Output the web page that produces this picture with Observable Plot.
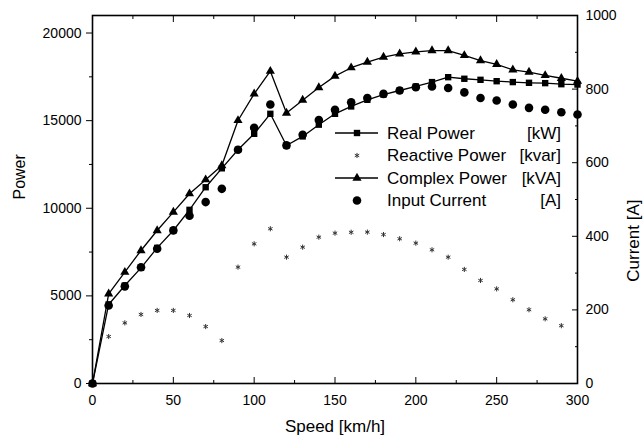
<!DOCTYPE html>
<html><head><meta charset="utf-8">
<script src="https://cdn.jsdelivr.net/npm/d3@7"></script>
<script src="https://cdn.jsdelivr.net/npm/@observablehq/plot@0.6"></script>
<style>
body{margin:0;background:#fff}
#chart{position:relative;width:643px;height:442px}
</style>
</head><body><div id="chart"></div>
<script>
// ---- data ----
const speeds = [0,10,20,30,40,50,60,70,80,90,100,110,120,130,140,150,160,170,180,190,200,210,220,230,240,250,260,270,280,290,300];
const realPower = [0,4510,5590,6600,7740,8730,9910,11200,12280,13340,14250,15390,13580,14100,14770,15390,15810,16190,16490,16720,16950,17200,17480,17390,17330,17250,17200,17160,17140,17080,17060];
const reactivePower = [null,2680,3460,3940,4170,4170,3880,3250,2450,6640,7970,8830,7210,7780,8350,8580,8630,8640,8500,8260,8010,7630,7210,6510,5880,5400,4780,4210,3690,3300,null];
const complexPower = [0,5120,6350,7590,8730,9780,10830,11630,12440,15010,16530,17820,15430,16170,16890,17540,18020,18340,18630,18810,18930,19000,19000,18720,18430,18210,17900,17770,17580,17420,17250];
const inputCurrent = [0,212,264,316,366,416,456,493,529,635,695,758,647,676,716,744,764,776,787,796,805,807,803,791,776,769,758,749,744,737,731];

const xTicks = [0,50,100,150,200,250,300];
const xMinor = [25,75,125,175,225,275];
const powerTicks = [0,5000,10000,15000,20000];
const powerMinor = [2500,7500,12500,17500];
const currentTicks = [0,200,400,600,800,1000];
const currentMinor = [100,300,500,700,900];

const legendLabels = ["Real Power","Reactive Power","Complex Power","Input Current"];
const legendUnits = ["[kW]","[kvar]","[kVA]","[A]"];

// ---- scales ----
const powerMax = 21000, currentMax = 1000;
const k = powerMax / currentMax; // current -> left-axis units

const rows = speeds.map((s,i)=>({s, real: realPower[i], reactive: reactivePower[i], complex: complexPower[i], current: inputCurrent[i]}));
const font = "'Liberation Sans', Arial, Helvetica, sans-serif";
const R = {square:3.6, triangle:3.4, circle:4.3, asterisk:2.4};

const plot = Plot.plot({
  width: 643, height: 442,
  marginLeft: 92, marginRight: 66, marginTop: 15, marginBottom: 59,
  style: {fontFamily: font, fontSize: "14px", color: "#000", background: "#fff", overflow: "visible"},
  x: {domain: [0,300]},
  y: {domain: [0,powerMax]},
  marks: [
    Plot.axisX({ticks: xTicks, tickSize: -6, tickPadding: 18, tickFormat: d => String(d), label: null, fontSize: 14}),
    Plot.axisX({ticks: xMinor, tickSize: -3, tickFormat: () => "", label: null}),
    Plot.axisX({anchor: "top", ticks: xTicks, tickSize: -6, tickFormat: () => "", label: null}),
    Plot.axisX({anchor: "top", ticks: xMinor, tickSize: -3, tickFormat: () => "", label: null}),
    Plot.axisY({ticks: powerTicks, tickSize: 6, tickPadding: 5, tickFormat: d => String(d), label: null, fontSize: 14}),
    Plot.axisY({ticks: powerMinor, tickSize: 3, tickFormat: () => "", label: null}),
    Plot.axisY({anchor: "right", ticks: currentTicks.map(v => v*k), tickSize: -6, tickPadding: 14, tickFormat: d => String(Math.round(d/k)), label: null, fontSize: 14}),
    Plot.axisY({anchor: "right", ticks: currentMinor.map(v => v*k), tickSize: -3, tickFormat: () => "", label: null}),
    Plot.frame({stroke: "#000", strokeWidth: 1.6}),
    Plot.line(rows, {x: "s", y: "real", stroke: "#000", strokeWidth: 1.3}),
    Plot.line(rows, {x: "s", y: "complex", stroke: "#000", strokeWidth: 1.3}),
    Plot.dot(rows.filter(d => d.reactive != null), {x: "s", y: "reactive", symbol: "asterisk", r: R.asterisk, stroke: "#333", strokeWidth: 1}),
    Plot.dot(rows, {x: "s", y: d => d.current * k, r: R.circle, fill: "#000", stroke: null}),
    Plot.dot(rows, {x: "s", y: "real", symbol: "square", r: R.square, fill: "#000", stroke: null}),
    Plot.dot(rows, {x: "s", y: "complex", symbol: "triangle", r: R.triangle, fill: "#000", stroke: null}),
    Plot.text(["Power"], {text: d => d, frameAnchor: "left", dx: -73, rotate: -90, fontSize: 16}),
    Plot.text(["Current [A]"], {text: d => d, frameAnchor: "right", dx: 56, rotate: -90, fontSize: 17}),
    Plot.text(["Speed [km/h]"], {text: d => d, frameAnchor: "bottom", dy: 48, fontSize: 17})
  ]
});

// ---- in-plot legend ----
const svg = d3.select(plot);
const g = svg.append("g").attr("font-family", font).attr("font-size", 17).attr("fill", "#000").attr("text-anchor", "start");
const legendRowY = [133, 155.5, 178, 200.5];
const symbols = [d3.symbolSquare, d3.symbolAsterisk, d3.symbolTriangle, d3.symbolCircle];
const sizes = [R.square, R.asterisk, R.triangle, R.circle];
const hasLine = [true, false, true, false];
legendLabels.forEach((lab, i) => {
  const y = legendRowY[i];
  if (hasLine[i]) g.append("line").attr("x1", 335).attr("x2", 378).attr("y1", y).attr("y2", y).attr("stroke", "#000").attr("stroke-width", 1.3);
  const p = g.append("path").attr("transform", `translate(357,${y})`)
    .attr("d", d3.symbol(symbols[i], Math.PI * sizes[i] * sizes[i])());
  if (symbols[i] === d3.symbolAsterisk) p.attr("fill", "none").attr("stroke", "#333");
  else p.attr("fill", "#000");
  g.append("text").attr("x", 387).attr("y", y).attr("dy", "0.35em").attr("text-anchor", "start").text(lab);
  g.append("text").attr("x", 561).attr("y", y).attr("dy", "0.35em").attr("text-anchor", "end").text(legendUnits[i]);
});

document.getElementById("chart").appendChild(plot);
</script>
</body></html>
